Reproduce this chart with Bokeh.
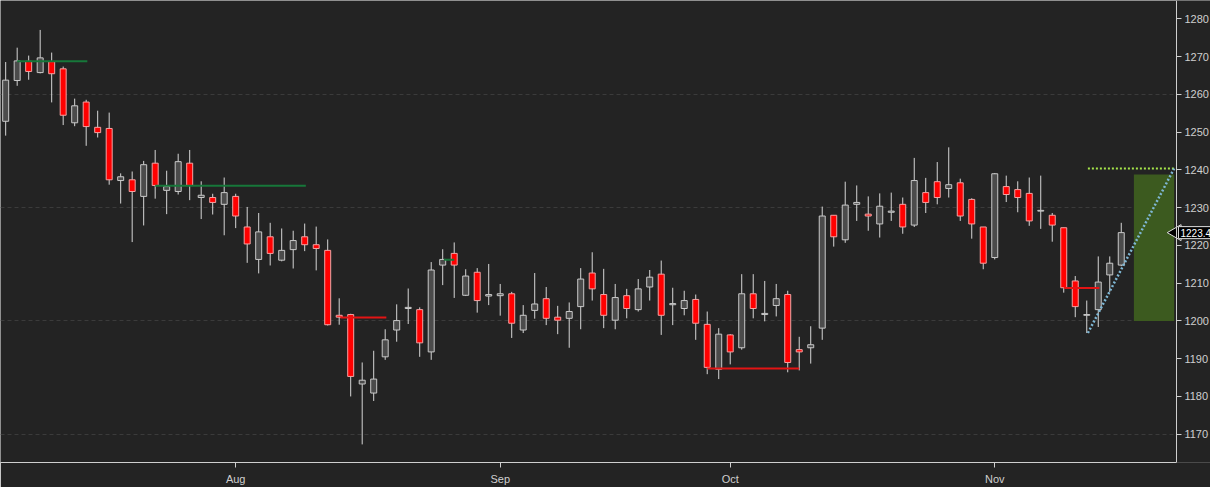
import numpy as np
from bokeh.plotting import figure
from bokeh.models import Range1d, FixedTicker, Label
from bokeh.embed import file_html
from bokeh.resources import INLINE

# ---- data ----
opens = [1252.9, 1263.7, 1268.8, 1265.8, 1268.7, 1266.8, 1252.5, 1258.0, 1251.3, 1251.0,
         1237.2, 1237.4, 1233.0, 1241.8, 1234.6, 1234.3, 1241.8, 1232.7, 1232.7, 1230.9,
         1233.0, 1224.9, 1216.3, 1222.3, 1216.1, 1218.9, 1222.3, 1220.2, 1218.7, 1201.5,
         1201.7, 1183.3, 1180.9, 1190.5, 1197.6, 1203.3, 1203.0, 1191.8, 1214.8, 1217.9,
         1206.8, 1212.9, 1206.6, 1206.7, 1207.2, 1197.6, 1202.8, 1205.9, 1201.0, 1200.7,
         1203.8, 1212.7, 1207.0, 1200.2, 1206.7, 1203.0, 1209.0, 1212.4, 1204.3, 1203.3,
         1205.7, 1199.1, 1187.2, 1196.3, 1192.9, 1207.2, 1201.7, 1204.1, 1207.0, 1192.4,
         1192.9, 1198.1, 1228.0, 1221.5, 1230.9, 1228.3, 1225.7, 1228.8, 1230.9, 1225.4,
         1234.0, 1236.9, 1235.1, 1236.6, 1232.2, 1224.9, 1216.8, 1235.6, 1234.8, 1233.8,
         1229.1, 1228.0, 1224.7, 1210.6, 1201.5, 1203.0, 1212.2, 1214.8]
highs = [1268.6, 1272.4, 1270.3, 1277.1, 1271.1, 1267.4, 1258.9, 1258.6, 1255.7, 1255.2,
         1239.1, 1239.6, 1242.4, 1245.3, 1239.8, 1244.3, 1245.3, 1237.0, 1233.7, 1238.0,
         1233.7, 1230.2, 1228.6, 1226.0, 1224.5, 1223.9, 1225.8, 1225.0, 1221.6, 1206.0,
         1201.9, 1189.0, 1192.1, 1197.8, 1204.4, 1208.6, 1203.6, 1215.6, 1219.0, 1220.8,
         1213.7, 1214.0, 1215.1, 1209.8, 1207.7, 1204.2, 1212.7, 1209.0, 1204.0, 1204.9,
         1214.0, 1218.2, 1213.8, 1209.8, 1208.5, 1211.1, 1213.5, 1216.0, 1208.8, 1208.0,
         1207.0, 1202.5, 1198.1, 1196.5, 1212.4, 1212.4, 1210.6, 1209.8, 1208.0, 1195.8,
         1198.6, 1230.3, 1228.0, 1236.9, 1235.9, 1233.0, 1233.8, 1234.0, 1232.7, 1243.2,
         1237.9, 1242.1, 1246.0, 1237.7, 1232.5, 1224.9, 1239.2, 1238.5, 1237.0, 1238.0,
         1238.5, 1228.6, 1224.7, 1211.9, 1205.4, 1217.1, 1217.1, 1226.0]
lows = [1249.1, 1262.3, 1263.9, 1265.6, 1257.9, 1251.9, 1251.6, 1246.4, 1248.6, 1236.1,
        1231.1, 1220.9, 1225.3, 1232.4, 1228.3, 1233.5, 1232.0, 1227.0, 1228.2, 1222.7,
        1224.6, 1215.4, 1212.6, 1214.7, 1215.8, 1213.9, 1218.5, 1213.4, 1198.8, 1199.0,
        1180.0, 1167.3, 1178.8, 1189.7, 1194.5, 1199.2, 1190.5, 1189.7, 1209.5, 1206.1,
        1206.6, 1202.2, 1204.2, 1201.4, 1195.5, 1196.8, 1200.6, 1198.9, 1196.5, 1192.9,
        1197.8, 1205.4, 1198.1, 1197.8, 1200.7, 1202.5, 1205.4, 1196.3, 1198.9, 1201.5,
        1195.0, 1185.9, 1184.6, 1188.5, 1192.4, 1200.7, 1199.9, 1201.2, 1186.4, 1186.9,
        1188.7, 1195.0, 1219.7, 1220.7, 1226.5, 1223.9, 1222.1, 1226.5, 1223.1, 1224.9,
        1228.6, 1230.9, 1232.7, 1226.5, 1221.8, 1213.7, 1216.3, 1231.5, 1228.8, 1225.2,
        1224.4, 1221.0, 1207.5, 1201.0, 1196.8, 1198.4, 1207.7, 1214.5]
closes = [1263.8, 1268.9, 1266.1, 1269.7, 1265.5, 1254.5, 1257.0, 1251.5, 1249.9, 1237.4,
          1238.2, 1234.3, 1241.4, 1235.9, 1235.6, 1242.2, 1235.9, 1233.3, 1231.4, 1234.0,
          1227.8, 1220.4, 1223.6, 1217.9, 1218.7, 1221.3, 1220.2, 1219.2, 1199.0, 1201.0,
          1185.3, 1184.3, 1184.6, 1195.0, 1200.1, 1203.6, 1194.2, 1213.5, 1216.3, 1214.8,
          1211.9, 1205.4, 1207.0, 1207.2, 1199.4, 1201.5, 1204.5, 1200.7, 1200.2, 1202.5,
          1211.1, 1208.5, 1201.5, 1206.2, 1203.3, 1208.5, 1211.6, 1201.5, 1204.6, 1205.4,
          1199.4, 1187.7, 1196.5, 1191.8, 1207.2, 1203.3, 1202.0, 1205.9, 1189.0, 1191.8,
          1193.7, 1227.8, 1222.3, 1230.7, 1231.4, 1227.8, 1230.4, 1229.1, 1224.9, 1237.2,
          1231.4, 1232.7, 1236.1, 1227.8, 1225.7, 1215.3, 1239.0, 1233.5, 1232.7, 1226.5,
          1229.3, 1225.4, 1208.8, 1203.8, 1201.7, 1210.3, 1215.3, 1223.4]

month_ticks = [20, 43, 63, 86]
month_labels = ["Aug", "Sep", "Oct", "Nov"]
price_ticks = [1170, 1180, 1190, 1200, 1210, 1220, 1230, 1240, 1250, 1260, 1270, 1280]
grid_ticks = [1170, 1200, 1230, 1260]

# horizontal level lines (start index, end index, price)
green_x0 = [1.0, 13.0, 38.1]
green_x1 = [7.1, 26.1, 39.0]
green_y = [1268.8, 1235.8, 1216.2]
red_x0 = [29.1, 61.0, 92.0]
red_x1 = [33.1, 69.0, 95.1]
red_y = [1200.9, 1187.4, 1208.7]

# target zone and projection
zone_left, zone_right = 98.1, 101.6
zone_bottom, zone_top = 1200.0, 1238.8
target_x0, target_x1, target_price = 94.1, 101.6, 1240.4
trend_x = [94.1, 101.6]
trend_y = [1196.8, 1240.4]

# ---- figure ----
BG = "#232323"
AX = "#cfcfcf"
x_start, axis_x, x_end = -0.45, 101.8, 104.76   # price scale sits at axis_x
y_start, y_end = 1162.5, 1284.9

p = figure(width=1210, height=487, x_range=Range1d(x_start, x_end),
           y_range=Range1d(y_start, y_end), output_backend="svg",
           toolbar_location=None, y_axis_location="right",
           min_border_left=0, min_border_top=0, min_border_bottom=0, min_border_right=0)
p.background_fill_color = BG
p.border_fill_color = BG
p.outline_line_color = None

p.xgrid.visible = False
p.ygrid.ticker = FixedTicker(ticks=grid_ticks)
p.ygrid.grid_line_color = "#3b3b3b"
p.ygrid.grid_line_dash = "4 3"

for ax in (p.xaxis[0], p.yaxis[0]):
    ax.axis_line_color = AX
    ax.major_tick_line_color = AX
    ax.minor_tick_line_color = None
    ax.major_tick_in = 0
    ax.major_tick_out = 5
    ax.major_label_text_color = AX
    ax.major_label_text_font = "Liberation Sans"
    ax.major_label_text_font_size = "11px"

p.xaxis.ticker = FixedTicker(ticks=month_ticks)
p.xaxis.major_label_overrides = {t: l for t, l in zip(month_ticks, month_labels)}
p.xaxis.bounds = (x_start, axis_x)
p.yaxis.ticker = FixedTicker(ticks=price_ticks)
p.yaxis.major_label_overrides = {t: str(t) for t in price_ticks}
p.yaxis.major_label_standoff = 3
p.yaxis.fixed_location = axis_x

# keep the price-scale strip clear of grid lines
p.quad(left=[axis_x], right=[x_end], bottom=[y_start], top=[y_end],
       fill_color=BG, line_color=None, level="underlay")

idx = np.arange(len(opens))
o = np.array(opens); c = np.array(closes)
up = c >= o
dn = ~up

# wicks
p.segment(x0=idx, y0=highs, x1=idx, y1=lows, line_color="#d6d6d6", line_width=1)
# bodies
p.vbar(x=idx[up], width=0.52, top=np.maximum(o, c)[up], bottom=np.minimum(o, c)[up],
       fill_color="#4b4b4b", line_color="#c9c9c9", line_width=1)
p.vbar(x=idx[dn], width=0.52, top=np.maximum(o, c)[dn], bottom=np.minimum(o, c)[dn],
       fill_color="#ff0000", line_color="#f3a3a3", line_width=1)

# level lines
p.segment(x0=green_x0, y0=green_y, x1=green_x1, y1=green_y, line_color="#17773a", line_width=2)
p.segment(x0=red_x0, y0=red_y, x1=red_x1, y1=red_y, line_color="#e31414", line_width=2)

# target zone
p.quad(left=[zone_left], right=[zone_right], bottom=[zone_bottom], top=[zone_top],
       fill_color="#3c5a1f", line_color=None)
p.segment(x0=[target_x0], y0=[target_price], x1=[target_x1], y1=[target_price],
          line_color="#a6e64a", line_width=2, line_dash="2 2")
p.line(x=trend_x, y=trend_y, line_color="#7fb7d4", line_width=2.5, line_dash="2 2")

# last price marker
last = closes[-1]
p.scatter(x=[axis_x], y=[last], marker="triangle", angle=np.pi / 2, size=16,
          fill_color="black", line_color="#e0e0e0", line_width=1)
p.add_layout(Label(x=axis_x, y=last, text=f"{last:.1f}", text_color="white",
                   text_font="Liberation Sans", text_font_size="10px",
                   text_baseline="middle", text_align="left", x_offset=2,
                   background_fill_color="black", border_line_color="#e0e0e0",
                   padding=2))

open("out.html", "w").write(file_html(p, INLINE))
